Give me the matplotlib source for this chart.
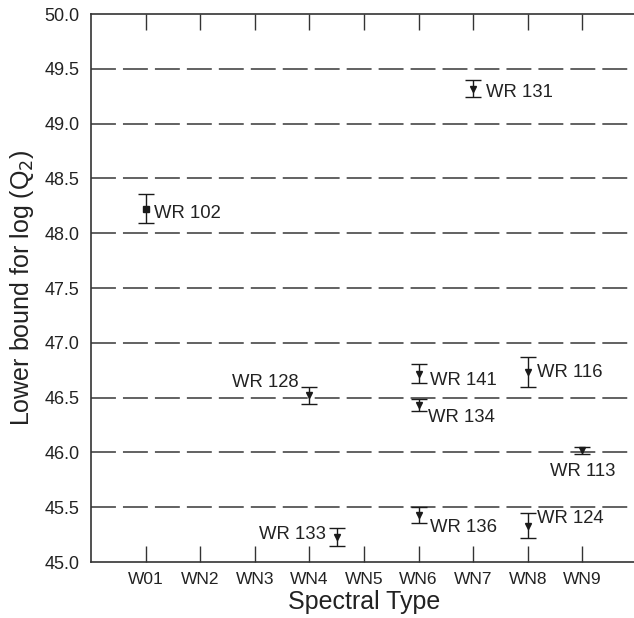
import matplotlib.pyplot as plt

plt.rcParams['font.family'] = ['Liberation Sans', 'DejaVu Sans']

# spectral type index (1 = W01 ... 9 = WN9)
types = ["W01", "WN2", "WN3", "WN4", "WN5", "WN6", "WN7", "WN8", "WN9"]

stars = ["WR 102", "WR 131", "WR 128", "WR 141", "WR 134",
         "WR 116", "WR 113", "WR 136", "WR 124", "WR 133"]
xpos = [1, 7, 4, 6, 6, 8, 9, 6, 8, 4.5]
logq = [48.22, 49.32, 46.52, 46.72, 46.43, 46.73, 46.02, 45.43, 45.33, 45.23]
err_lo = [0.13, 0.08, 0.08, 0.09, 0.05, 0.13, 0.03, 0.07, 0.11, 0.08]
err_hi = [0.14, 0.08, 0.08, 0.09, 0.06, 0.14, 0.03, 0.07, 0.12, 0.08]
markers = ["s", "v", "v", "v", "v", "v", "v", "v", "v", "v"]

# label placement (offset in points, alignment)
label_off = [(6, -3), (9, -3), (-8, 9), (8, -5), (7, -9),
             (7, 0), (0, -15), (8, -9), (7, 5), (-8, 2)]
label_ha = ["left", "left", "right", "left", "left",
            "left", "center", "left", "left", "right"]

fig = plt.figure(figsize=[6.34, 6.18], dpi=100)
ax = fig.add_axes([0.1435, 0.0906, 0.861, 0.8867])

for i in range(len(stars)):
    ax.errorbar(xpos[i], logq[i], yerr=[[err_lo[i]], [err_hi[i]]],
                fmt=markers[i], color="#1a1a1a",
                markersize=4.6 if markers[i] == "v" else 4.5,
                elinewidth=1.0, capsize=5.5, capthick=1.0, zorder=3)
    ax.annotate(stars[i], (xpos[i], logq[i]), xytext=label_off[i],
                textcoords="offset points", ha=label_ha[i], va="center",
                fontsize=13.3, color="#222222")

for y in [45.5, 46.0, 46.5, 47.0, 47.5, 48.0, 48.5, 49.0, 49.5]:
    ax.axhline(y, color="#555555", linewidth=1.3, dashes=(13.8, 3.9), zorder=1)

ax.set_xlim(0, 10)
ax.set_ylim(45.0, 50.0)
ax.set_xticks(range(1, 10))
ax.set_xticklabels(types, fontsize=12.5, color="#222222")
ax.set_yticks([45.0 + 0.5 * k for k in range(11)])
ax.set_yticklabels(["%.1f" % (45.0 + 0.5 * k) for k in range(11)],
                   fontsize=13, color="#222222")
ax.tick_params(axis="x", direction="in", length=11.5, width=1.0,
               top=True, bottom=True, pad=7, color="#333333")
ax.tick_params(axis="y", length=0, pad=8)
ax.spines["right"].set_visible(False)
for s in ["left", "top", "bottom"]:
    ax.spines[s].set_linewidth(1.2)
    ax.spines[s].set_color("#333333")

ax.set_xlabel("Spectral Type", fontsize=18, color="#222222")
ax.set_ylabel("Lower bound for log (Q$_2$)", fontsize=18, color="#222222")
ax.xaxis.set_label_coords(0.5, -0.051)
ax.yaxis.set_label_coords(-0.1, 0.5)

fig.savefig("out.png", dpi=100)
